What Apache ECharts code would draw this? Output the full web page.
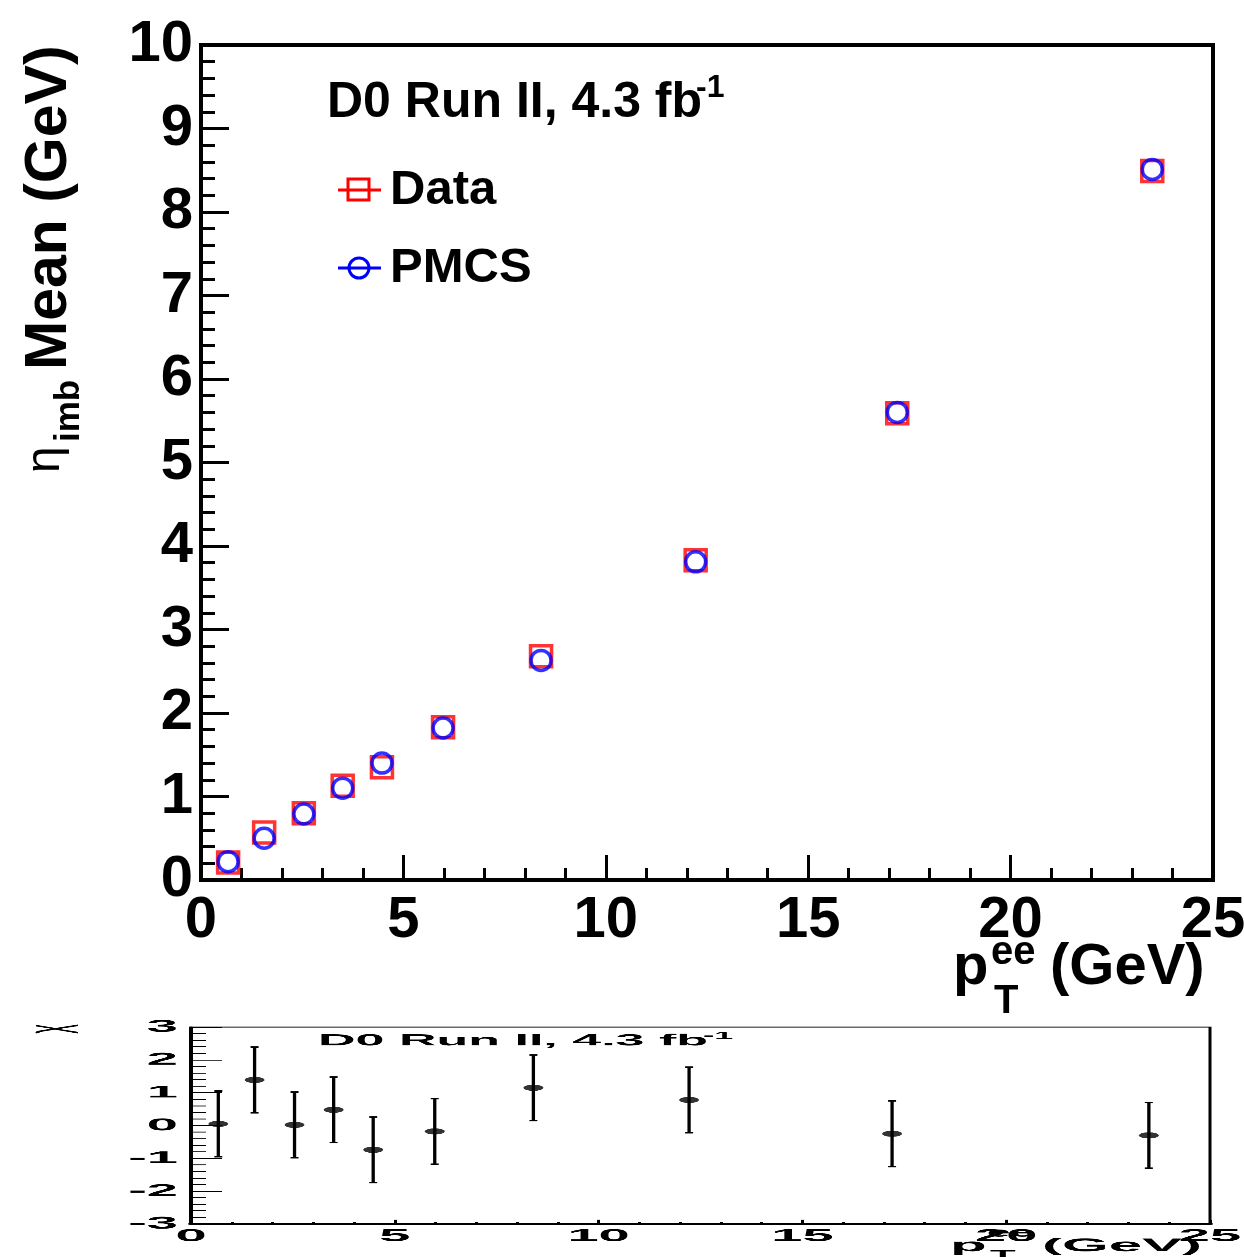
<!DOCTYPE html>
<html><head><meta charset="utf-8">
<script src="https://cdn.jsdelivr.net/npm/echarts@6/dist/echarts.min.js"></script>
<style>
html,body{margin:0;padding:0;width:1244px;height:1257px;overflow:hidden;background:#fff;}
#main{position:absolute;left:0;top:0;width:1244px;height:1257px;}
#ratio{position:absolute;left:0;top:1015px;width:1244px;height:800px;transform:scaleY(0.31);transform-origin:0 0;}
</style></head><body>
<div id="main"></div><div id="ratio"></div>
<script>
// ---- data ----
const ptBins   = [0.67, 1.56, 2.54, 3.50, 4.47, 5.98, 8.40, 12.22, 17.20, 23.50];
const dataMean = [0.21, 0.57, 0.80, 1.13, 1.35, 1.83, 2.68, 3.83, 5.59, 8.49];
const pmcsMean = [0.22, 0.50, 0.79, 1.10, 1.40, 1.82, 2.63, 3.81, 5.60, 8.51];
const chiValues = [0.05, 1.39, 0.02, 0.48, -0.74, -0.18, 1.15, 0.78, -0.25, -0.30];
const chiErrors = [1, 1, 1, 1, 1, 1, 1, 1, 1, 1];
const xTickLabels = ['0', '5', '10', '15', '20', '25'];
const yTickLabels = ['0', '1', '2', '3', '4', '5', '6', '7', '8', '9', '10'];
const chiTickLabels = ['-3', '-2', '-1', '0', '1', '2', '3'];
const headerText = 'D0 Run II, 4.3 fb';
const headerSup = '-1';
const seriesNames = ['Data', 'PMCS'];

const FONT = '"Liberation Sans", Arial, Helvetica, sans-serif';
function txt(x, y, text, size, opts) {
  opts = opts || {};
  return {
    type: 'text', x: x, y: y, silent: true,
    style: {
      text: text, fill: opts.fill || '#000',
      font: (opts.weight || 'bold') + ' ' + size + 'px ' + FONT,
      align: opts.align || 'left', verticalAlign: opts.valign || 'middle'
    }
  };
}

// ---- main panel ----
const main = echarts.init(document.getElementById('main'));
main.setOption({
  backgroundColor: '#fff',
  animation: false,
  grid: { left: 201, top: 45, width: 1012, height: 835, show: true, borderColor: '#000', borderWidth: 4,
          backgroundColor: 'rgba(0,0,0,0)', containLabel: false, outerBoundsMode: 'none' },
  xAxis: {
    type: 'value', min: 0, max: 25, interval: 5,
    axisLine: { show: true, onZero: false, lineStyle: { color: '#000', width: 4 } },
    axisTick: { show: true, inside: true, length: 25, lineStyle: { color: '#000', width: 3 } },
    minorTick: { show: true, splitNumber: 5, length: 12, lineStyle: { color: '#000', width: 3 } },
    splitLine: { show: false }, minorSplitLine: { show: false },
    axisLabel: { color: '#000', fontFamily: FONT, fontWeight: 'bold', fontSize: 58, margin: 12,
                 formatter: v => xTickLabels[Math.round(v / 5)] }
  },
  yAxis: {
    type: 'value', min: 0, max: 10, interval: 1,
    axisLine: { show: true, onZero: false, lineStyle: { color: '#000', width: 4 } },
    axisTick: { show: true, inside: true, length: 28, lineStyle: { color: '#000', width: 3 } },
    minorTick: { show: true, splitNumber: 5, length: 14, lineStyle: { color: '#000', width: 3 } },
    splitLine: { show: false }, minorSplitLine: { show: false },
    axisLabel: { color: '#000', fontFamily: FONT, fontWeight: 'bold', fontSize: 58, margin: 8,
                 formatter: v => yTickLabels[Math.round(v)] }
  },
  series: [
    { name: seriesNames[0], type: 'scatter', symbol: 'rect', symbolSize: 21, z: 2, silent: true,
      emphasis: { disabled: true },
      itemStyle: { color: 'rgba(0,0,0,0)', borderColor: '#ff0000', borderWidth: 3.5 },
      data: ptBins.map((x, i) => [x, dataMean[i]]) },
    { name: seriesNames[1], type: 'scatter', symbol: 'circle', symbolSize: 20, z: 3, silent: true,
      emphasis: { disabled: true },
      itemStyle: { color: 'rgba(0,0,0,0)', borderColor: '#0000ff', borderWidth: 3.5 },
      data: ptBins.map((x, i) => [x, pmcsMean[i]]) }
  ],
  graphic: [
    txt(327, 103, headerText, 50),
    txt(696, 88, headerSup, 32),
    // legend
    { type: 'line', silent: true, shape: { x1: 338, y1: 190, x2: 381, y2: 190 }, style: { stroke: '#ff0000', lineWidth: 3 } },
    { type: 'rect', silent: true, shape: { x: 348, y: 179, width: 21, height: 21 }, style: { stroke: '#ff0000', fill: 'none', lineWidth: 3 } },
    txt(390, 190, seriesNames[0], 49),
    { type: 'line', silent: true, shape: { x1: 338, y1: 268, x2: 381, y2: 268 }, style: { stroke: '#0000ff', lineWidth: 3 } },
    { type: 'circle', silent: true, shape: { cx: 359, cy: 268, r: 10 }, style: { stroke: '#0000ff', fill: 'none', lineWidth: 3 } },
    txt(390, 268, seriesNames[1], 49),
    // x-axis title
    txt(953, 968, 'p', 58),
    txt(991, 953, 'ee', 40),
    txt(994, 1002, 'T', 40),
    txt(1050, 968, '(GeV)', 58),
    // y-axis title (rotated)
    { type: 'group', x: 50, y: 473, rotation: Math.PI / 2, silent: true,
      children: [
        txt(0, -4, 'η', 48, { weight: 'normal' }),
        txt(31, 19, 'imb', 35),
        txt(103, 0, 'Mean (GeV)', 59)
      ] }
  ]
});

// ---- ratio panel (drawn tall, squashed vertically like the original) ----
const ratio = echarts.init(document.getElementById('ratio'));
ratio.setOption({
  animation: false,
  grid: { left: 191, top: 39, width: 1019, height: 635, show: true, borderColor: '#000', borderWidth: 3,
          backgroundColor: 'rgba(0,0,0,0)', containLabel: false, outerBoundsMode: 'none' },
  xAxis: {
    type: 'value', min: 0, max: 25, interval: 5,
    axisLine: { show: true, onZero: false, lineStyle: { color: '#000', width: 6 } },
    axisTick: { show: true, inside: true, length: 14, lineStyle: { color: '#000', width: 3 } },
    minorTick: { show: true, splitNumber: 5, length: 6, lineStyle: { color: '#000', width: 3 } },
    splitLine: { show: false }, minorSplitLine: { show: false },
    axisLabel: { color: '#000', fontFamily: FONT, fontWeight: 'bold', fontSize: 56, margin: 12,
                 formatter: v => xTickLabels[Math.round(v / 5)] }
  },
  yAxis: {
    type: 'value', min: -3, max: 3, interval: 1,
    axisLine: { show: true, onZero: false, lineStyle: { color: '#000', width: 4 } },
    axisTick: { show: true, inside: true, length: 31, lineStyle: { color: '#000', width: 3 } },
    minorTick: { show: true, splitNumber: 5, length: 15, lineStyle: { color: '#000', width: 3 } },
    splitLine: { show: false }, minorSplitLine: { show: false },
    axisLabel: { color: '#000', fontFamily: FONT, fontWeight: 'bold', fontSize: 56, margin: 13,
                 formatter: v => chiTickLabels[Math.round(v + 3)] }
  },
  series: [
    { name: 'chi-err', type: 'custom', silent: true, z: 2,
      encode: { x: 0, y: 1 },
      data: ptBins.map((x, i) => [x, chiValues[i], chiErrors[i]]),
      renderItem: function (params, api) {
        const x = api.value(0), y = api.value(1), e = api.value(2);
        const t = api.coord([x, y + e]), b = api.coord([x, y - e]);
        const cap = 4, st = { stroke: '#000', lineWidth: 3.3 };
        return { type: 'group', children: [
          { type: 'line', shape: { x1: t[0], y1: t[1], x2: b[0], y2: b[1] }, style: st },
          { type: 'line', shape: { x1: t[0] - cap, y1: t[1], x2: t[0] + cap, y2: t[1] }, style: { stroke: '#000', lineWidth: 5 } },
          { type: 'line', shape: { x1: b[0] - cap, y1: b[1], x2: b[0] + cap, y2: b[1] }, style: { stroke: '#000', lineWidth: 5 } }
        ] };
      } },
    { name: 'chi', type: 'scatter', symbol: 'circle', symbolSize: 20, z: 3, silent: true,
      emphasis: { disabled: true },
      itemStyle: { color: '#000' },
      data: ptBins.map((x, i) => [x, chiValues[i]]) }
  ],
  graphic: [
    txt(318, 84, headerText, 52),
    txt(703, 68, headerSup, 34),
    { type: 'group', x: 50, y: 45, rotation: Math.PI / 2, silent: true,
      children: [ txt(0, 0, 'χ', 58, { align: 'center', weight: 'normal' }) ] },
    txt(950, 745, 'p', 60),
    txt(987, 703, 'ee', 42),
    txt(990, 775, 'T', 42),
    txt(1042, 745, '(GeV)', 60)
  ]
});
</script>
</body></html>
